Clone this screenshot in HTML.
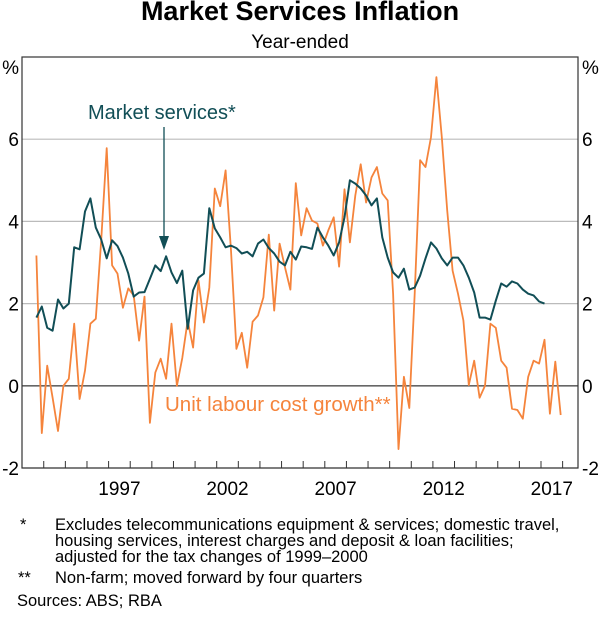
<!DOCTYPE html>
<html><head><meta charset="utf-8"><style>
body{margin:0;background:#fff;}
svg text{font-family:"Liberation Sans",Arial,sans-serif;}
</style></head><body>
<svg id="chart" width="600" height="617" xmlns="http://www.w3.org/2000/svg">
<text x="300" y="20" text-anchor="middle" font-size="27" font-weight="bold">Market Services Inflation</text>
<text x="300" y="48" text-anchor="middle" font-size="19">Year-ended</text>
<g id="grid"></g>
<g id="series"></g>
<rect x="22" y="57" width="556" height="411" fill="none" stroke="#333" stroke-width="1.2"/>
<g id="axes"></g>
<text x="88" y="119" font-size="20" fill="#114e56">Market services*</text>
<line x1="164" y1="127" x2="164" y2="238" stroke="#114e56" stroke-width="1.3"/>
<polygon points="159,236 169,236 164,250" fill="#114e56"/>
<text x="165" y="411" font-size="20.5" fill="#f5843c">Unit labour cost growth**</text>
<g font-size="16.5">
<text x="20" y="530">*</text>
<text x="55" y="530">Excludes telecommunications equipment &amp; services; domestic travel,</text>
<text x="55" y="546">housing services, interest charges and deposit &amp; loan facilities;</text>
<text x="55" y="562">adjusted for the tax changes of 1999–2000</text>
<text x="18" y="583">**</text>
<text x="55" y="583">Non-farm; moved forward by four quarters</text>
<text x="17" y="606">Sources: ABS; RBA</text>
</g>
</svg>
<script>
const startYear = 1993.66;
const marketServices = [1.66,1.93,1.41,1.34,2.1,1.88,2.0,3.37,3.32,4.24,4.56,3.85,3.56,3.1,3.54,3.4,3.12,2.73,2.17,2.27,2.28,2.6,2.93,2.79,3.15,2.76,2.5,2.8,1.39,2.32,2.63,2.73,4.32,3.83,3.61,3.37,
3.41,3.35,3.22,3.26,3.15,3.46,3.56,3.35,3.22,3.02,2.93,3.26,3.07,3.39,3.37,3.33,3.85,3.61,3.41,3.17,3.49,4.1,5.0,4.92,4.8,4.63,4.39,4.56,3.61,3.12,2.76,2.63,
2.85,2.34,2.39,2.68,3.1,3.49,3.34,3.1,2.93,3.12,3.12,2.93,2.63,2.27,1.66,1.66,1.61,2.07,2.49,2.41,2.54,2.49,2.34,2.24,2.2,2.05,2.0];
const unitLabourCost = [3.17,-1.15,0.49,-0.29,-1.1,0,0.17,1.51,-0.32,0.37,1.51,1.63,3.54,5.78,2.93,2.73,1.9,2.37,2.2,1.1,2.17,-0.9,0.32,0.66,0.17,1.51,0,0.68,1.59,0.93,2.56,1.54,2.39,4.8,4.37,5.24,
3.29,0.9,1.29,0.44,1.56,1.71,2.15,3.68,1.83,3.46,2.88,2.34,4.93,3.66,4.32,4.02,3.95,3.41,3.78,4.1,2.9,4.78,3.49,4.63,5.39,4.46,5.07,5.32,4.68,4.51,
2.24,-1.54,0.22,-0.54,2.24,5.49,5.32,6.05,7.51,6.05,4.27,2.8,2.24,1.59,0.02,0.61,-0.29,0,1.51,1.41,0.61,0.44,-0.56,-0.59,-0.8,0.22,0.61,0.54,1.12,-0.68,0.59,-0.71];
const yTicks = [-2,0,2,4,6];
const yearLabels = [1997,2002,2007,2012,2017];

const NS='http://www.w3.org/2000/svg';
const L=22,R=578,T=57,B=468;
function xScale(t){return 432.9+(t-2012)*21.62;}
function yScale(v){return B-(v+2)*(B-T)/10;}
function mk(tag,attrs,parent){const e=document.createElementNS(NS,tag);for(const k in attrs)e.setAttribute(k,attrs[k]);parent.appendChild(e);return e;}
const grid=document.getElementById('grid'),axes=document.getElementById('axes'),ser=document.getElementById('series');
yTicks.forEach(v=>{
  const y=yScale(v);
  const gl=mk('line',{x1:L,x2:R,y1:y,y2:y,stroke:v===0?'#666':'#bbb','stroke-width':v===0?1.6:1.2},grid);
  
  
  const lt=mk('text',{x:L-3,y:y+7,'text-anchor':'end','font-size':19},axes);lt.textContent=v;
  
  
  const rt=mk('text',{x:R+4,y:y+7,'font-size':19},axes);rt.textContent=v;
  
  
});
const pl=mk('text',{x:L-3,y:T+17,'text-anchor':'end','font-size':19},axes);pl.textContent='%';


const pr=mk('text',{x:R+4,y:T+17,'font-size':19},axes);pr.textContent='%';


for(let yr=1994;yr<=2018;yr++){
  const x=xScale(yr);
  const tk=mk('line',{x1:x,x2:x,y1:B,y2:B-7,stroke:'#333','stroke-width':1},axes);
  
  
}
yearLabels.forEach(yr=>{
  const t=mk('text',{x:xScale(yr+0.5),y:495,'text-anchor':'middle','font-size':19},axes);t.textContent=yr;
  
  
});
function path(vals){return vals.map((v,i)=>(i?'L':'M')+xScale(startYear+i/4).toFixed(1)+','+yScale(v).toFixed(1)).join('');}
const p1=mk('path',{d:path(unitLabourCost),fill:'none',stroke:'#f5843c','stroke-width':1.8,'stroke-linejoin':'round'},ser);


const p2=mk('path',{d:path(marketServices),fill:'none',stroke:'#114e56','stroke-width':2,'stroke-linejoin':'round'},ser);


</script>
</body></html>
